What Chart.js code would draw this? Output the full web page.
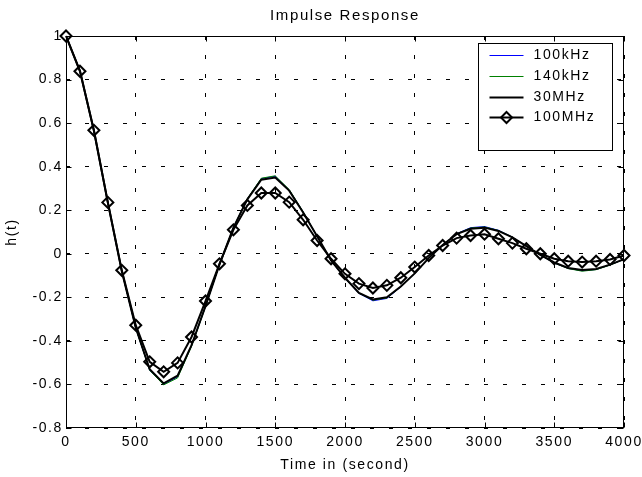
<!DOCTYPE html>
<html><head><meta charset="utf-8">
<script src="https://cdn.jsdelivr.net/npm/chart.js@4"></script>
<style>html,body{margin:0;padding:0;background:#fff;overflow:hidden}canvas{display:block}</style>
</head><body>
<canvas id="c" width="642" height="477"></canvas>
<script>
// ---- data ----
const timeSec = [0,100,200,300,400,500,600,700,800,900,1000,1100,1200,1300,1400,1500,1600,1700,1800,1900,2000,
  2100,2200,2300,2400,2500,2600,2700,2800,2900,3000,3100,3200,3300,3400,3500,3600,3700,3800,3900,4000];
const h100kHz = [1,0.84,0.565,0.235,-0.08,-0.342,-0.535,-0.6,-0.565,-0.422,-0.242,-0.05,0.12,0.252,0.345,0.356,0.293,0.192,0.08,-0.032,-0.113,-0.182,-0.216,-0.205,-0.152,-0.09,-0.02,0.04,0.092,0.12,0.125,0.108,0.076,0.035,-0.006,-0.042,-0.067,-0.078,-0.072,-0.051,-0.025];
const h140kHz = [1,0.84,0.565,0.235,-0.08,-0.342,-0.535,-0.602,-0.57,-0.425,-0.243,-0.05,0.12,0.253,0.347,0.358,0.295,0.193,0.08,-0.031,-0.112,-0.181,-0.213,-0.203,-0.151,-0.09,-0.02,0.04,0.091,0.118,0.123,0.107,0.076,0.035,-0.006,-0.042,-0.068,-0.08,-0.073,-0.052,-0.025];
const h30MHz  = [1,0.84,0.565,0.235,-0.08,-0.34,-0.53,-0.595,-0.56,-0.42,-0.24,-0.05,0.12,0.25,0.34,0.35,0.29,0.19,0.08,-0.03,-0.11,-0.18,-0.21,-0.2,-0.15,-0.09,-0.02,0.04,0.09,0.115,0.12,0.105,0.075,0.035,-0.005,-0.04,-0.065,-0.075,-0.07,-0.05,-0.025];
const h100MHz = [1,0.838,0.567,0.236,-0.076,-0.328,-0.496,-0.542,-0.501,-0.382,-0.217,-0.046,0.11,0.222,0.279,0.279,0.237,0.156,0.061,-0.023,-0.092,-0.137,-0.157,-0.145,-0.11,-0.061,-0.008,0.038,0.072,0.084,0.09,0.069,0.049,0.023,0,-0.023,-0.034,-0.038,-0.034,-0.026,-0.008];
const seriesLabels = ['100kHz','140kHz','30MHz','100MHz'];
const xTicks = [0,500,1000,1500,2000,2500,3000,3500,4000];
const xTickLabels = ['0','500','1000','1500','2000','2500','3000','3500','4000'];
const yTicks = [-0.8,-0.6,-0.4,-0.2,0,0.2,0.4,0.6,0.8,1];
const yTickLabels = ['-0.8','-0.6','-0.4','-0.2','0','0.2','0.4','0.6','0.8','1'];
const chartTitle = 'Impulse Response';
const xTitle = 'Time in (second)';
const yTitle = 'h(t)';

// ---- chart ----
const FONT = '"Liberation Sans", Arial, Helvetica, sans-serif';
const SPACING = '1.6px';
const toXY = arr => timeSec.map((t,i)=>({x:t,y:arr[i]}));
const MARK_R = 5.5;

const spacingPlugin = {
  id:'spacing',
  beforeUpdate(c){ c.ctx.letterSpacing = SPACING; },
  beforeLayout(c){ c.ctx.letterSpacing = SPACING; },
  beforeDraw(c){
    const ctx=c.ctx; ctx.letterSpacing = SPACING;
    ctx.save(); ctx.fillStyle='#fff'; ctx.fillRect(0,0,c.width,c.height); ctx.restore();
  }
};

function diamond(ctx,x,y,r){
  ctx.beginPath();
  ctx.moveTo(x,y-r); ctx.lineTo(x+r,y); ctx.lineTo(x,y+r); ctx.lineTo(x-r,y); ctx.closePath();
  ctx.stroke();
}

const framePlugin = {
  id:'frame',
  beforeDatasetsDraw(c){
    const {ctx, chartArea:a, scales:{x,y}} = c;
    ctx.save();
    ctx.setLineDash([]);
    ctx.strokeStyle='#000'; ctx.lineWidth=1;
    const L=Math.round(a.left)+0.5, R=Math.round(a.right)-0.5, T=Math.round(a.top)+0.5, B=Math.round(a.bottom)-0.5;
    ctx.strokeRect(L,T,R-L,B-T);
    const tl=5;
    ctx.beginPath();
    xTicks.forEach(v=>{const p=Math.round(x.getPixelForValue(v))+0.5; ctx.moveTo(p,B); ctx.lineTo(p,B-tl); ctx.moveTo(p,T); ctx.lineTo(p,T+tl);});
    yTicks.forEach(v=>{const p=Math.round(y.getPixelForValue(v))+0.5; ctx.moveTo(L,p); ctx.lineTo(L+tl,p); ctx.moveTo(R,p); ctx.lineTo(R-tl,p);});
    ctx.stroke();
    ctx.restore();
  },
  afterDraw(c){
    const {ctx, chartArea:a} = c;
    ctx.save();
    ctx.setLineDash([]);
    // legend box
    const bx0 = Math.round(a.right) - 146 + 0.5, bx1 = Math.round(a.right) - 12 + 0.5;
    const by0 = Math.round(a.top) + 7 + 0.5, by1 = Math.round(a.top) + 114 + 0.5;
    ctx.fillStyle='#fff'; ctx.fillRect(bx0,by0,bx1-bx0,by1-by0);
    ctx.strokeStyle='#000'; ctx.lineWidth=1; ctx.strokeRect(bx0,by0,bx1-bx0,by1-by0);
    ctx.font = '14px ' + FONT; ctx.letterSpacing = SPACING;
    ctx.textBaseline='middle'; ctx.textAlign='left';
    c.data.datasets.forEach((ds,i)=>{
      const yy = Math.round(a.top + 19 + i*20.8) + 0.5;
      const lx0 = bx0 + 11, lx1 = bx0 + 45;
      ctx.strokeStyle = ds.borderColor; ctx.lineWidth = ds.borderWidth;
      ctx.beginPath(); ctx.moveTo(lx0,yy); ctx.lineTo(lx1,yy); ctx.stroke();
      if (ds.pointStyle === 'rectRot') {
        ctx.lineWidth = ds.pointBorderWidth;
        diamond(ctx,(lx0+lx1)/2,yy,MARK_R);
      }
      ctx.fillStyle='#000';
      ctx.fillText(ds.label, bx0 + 55, yy);
    });
    ctx.restore();
  }
};

const tickFont = {family:FONT, size:14};
new Chart(document.getElementById('c'), {
  type:'line',
  data:{ datasets:[
    {label:seriesLabels[0], data:toXY(h100kHz), borderColor:'#0000ff', borderWidth:1, pointRadius:0, order:3},
    {label:seriesLabels[1], data:toXY(h140kHz), borderColor:'#008000', borderWidth:1, pointRadius:0, order:2},
    {label:seriesLabels[2], data:toXY(h30MHz), borderColor:'#000000', borderWidth:2, pointRadius:0, order:1},
    {label:seriesLabels[3], data:toXY(h100MHz), borderColor:'#000000', borderWidth:2, pointStyle:'rectRot',
      pointRadius:MARK_R, pointBorderWidth:2, pointBorderColor:'#000', pointBackgroundColor:'rgba(0,0,0,0)', order:0, clip:false}
  ]},
  options:{
    responsive:false, animation:false, devicePixelRatio:1,
    layout:{padding:{left:0,right:18,top:0,bottom:0}},
    elements:{line:{tension:0}},
    plugins:{
      legend:{display:false}, tooltip:{enabled:false},
      title:{display:true, text:chartTitle, color:'#000', fullSize:false,
        font:{family:FONT, size:15, weight:'normal'}, padding:{top:7, bottom:11}}
    },
    scales:{
      x:{type:'linear', min:0, max:4000,
        afterBuildTicks:s=>{ s.ticks = xTicks.map(v=>({value:v})); },
        ticks:{callback:(v,i)=>xTickLabels[i], color:'#000', font:tickFont, padding:6, maxRotation:0, autoSkip:false},
        grid:{color:'#000', lineWidth:1, drawTicks:false},
        border:{display:false, dash:[4,15]},
        title:{display:true, text:xTitle, color:'#000', font:tickFont, padding:{top:0,bottom:3}},
        afterFit:s=>{ s.height = 49; s.paddingLeft = 0; s.paddingRight = 0; }
      },
      y:{type:'linear', min:-0.8, max:1,
        afterBuildTicks:s=>{ s.ticks = yTicks.map(v=>({value:v})); },
        ticks:{callback:(v,i)=>yTickLabels[i], color:'#000', font:tickFont, padding:3, autoSkip:false},
        grid:{color:'#000', lineWidth:1, drawTicks:false},
        border:{display:false, dash:[4,15]},
        title:{display:true, text:yTitle, color:'#000', font:tickFont, padding:{top:4,bottom:0}},
        afterFit:s=>{ s.width = 66; s.paddingTop = 0; s.paddingBottom = 0; }
      }
    }
  },
  plugins:[spacingPlugin, framePlugin]
});
</script>
</body></html>
